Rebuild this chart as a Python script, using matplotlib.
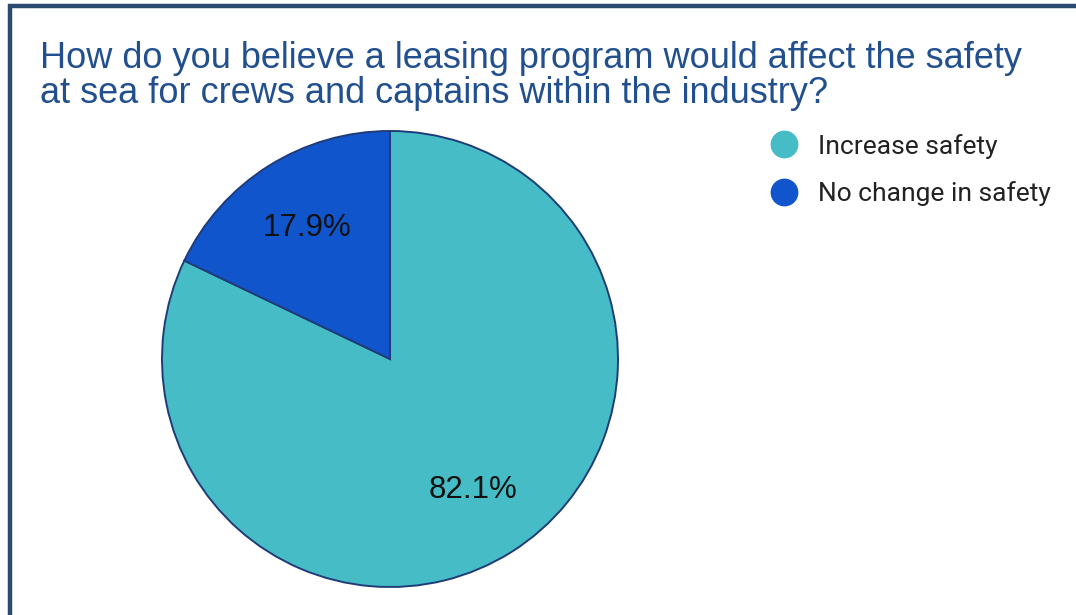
import matplotlib.pyplot as plt
from matplotlib.lines import Line2D

title = "How do you believe a leasing program would affect the safety\nat sea for crews and captains within the industry?"
labels = ["Increase safety", "No change in safety"]
shares = [82.1, 17.9]
colors = ["#46bdc6", "#1155cc"]

W, H = 1076, 615
fig = plt.figure(figsize=(W / 100, H / 100), dpi=100)
fig.patch.set_facecolor("white")

# frame drawn in pixel coordinates
ax = fig.add_axes([0, 0, 1, 1])
ax.pie(shares, colors=colors, startangle=90, counterclock=False,
       center=(390, 256), radius=228,
       autopct="%1.1f%%", pctdistance=0.68,
       wedgeprops=dict(edgecolor="#1f3c78", linewidth=1.4),
       textprops=dict(fontsize=22.5, color="#111111", family="Liberation Sans"))
ax.set_xlim(0, W)
ax.set_ylim(0, H)
ax.set_aspect("equal")
ax.axis("off")

# border along the left and top edges
ax.plot([10, 10, W], [0, H - 5.5, H - 5.5], color="#2b4a6f", linewidth=3.2,
        solid_capstyle="butt", solid_joinstyle="miter")

ax.text(40, H - 41, title, fontsize=26, color="#22508f", family="Liberation Sans",
        va="top", ha="left", linespacing=1.0)

handles = [Line2D([], [], marker="o", ls="", markersize=19, markerfacecolor=c,
                  markeredgecolor=c) for c in colors]
fig.legend(handles, labels, loc="upper left", bbox_to_anchor=(734 / W, 1 - 110 / H),
           frameon=False, handletextpad=0.3, labelspacing=0.86,
           prop=dict(family="Roboto", size=19), labelcolor="#222222")

fig.savefig("out.png", dpi=100, facecolor="white")
